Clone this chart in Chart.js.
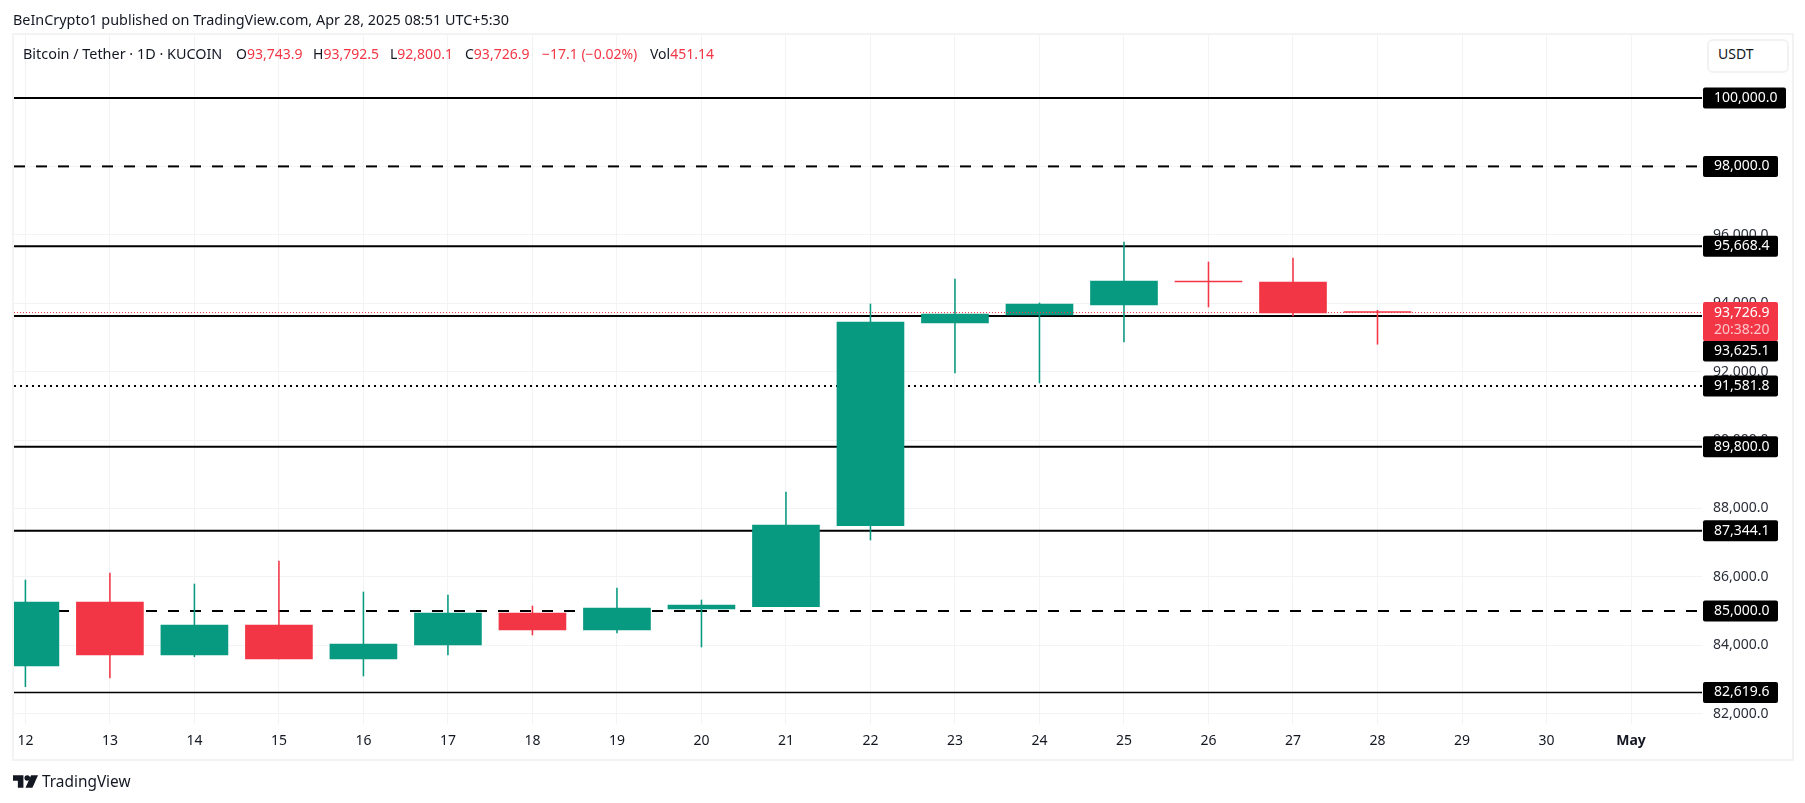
<!DOCTYPE html>
<html>
<head>
<meta charset="utf-8">
<title>Bitcoin / Tether</title>
<script src="https://cdn.jsdelivr.net/npm/chart.js@4/dist/chart.umd.min.js"></script>
<style>
    html, body { margin: 0; padding: 0; background: #fff; }
    body { width: 1805px; height: 803px; position: relative; overflow: hidden; font-family: "Noto Sans", sans-serif; color: #131722; }
    #panel { position: absolute; left: 12px; top: 33px; width: 1778px; height: 724px; border: 2px solid #f3f3f4; }
    #priceChart { position: absolute; left: 0; top: 0; }
    .txt { position: absolute; white-space: nowrap; font-size: 14px; line-height: 18px; }
    .wide { font-size: 14.4px; }
    .red { color: #f23645; }
    #usdt { position: absolute; left: 1707px; top: 39px; width: 78px; height: 30px; border: 2px solid #f1f2f4; border-radius: 6px; background: #fff; }
    #logo { position: absolute; left: 13px; top: 775px; }
</style>
</head>
<body>
<div id="panel"></div>
<canvas id="priceChart" width="1805" height="803"></canvas>

<div class="txt wide" style="left:13px;top:11px">BeInCrypto1 published on TradingView.com, Apr 28, 2025 08:51 UTC+5:30</div>
<div class="txt wide" style="left:23px;top:45px">Bitcoin / Tether · 1D · KUCOIN</div>
<div class="txt" style="left:236px;top:45px">O<span class="red">93,743.9</span></div>
<div class="txt" style="left:313px;top:45px">H<span class="red">93,792.5</span></div>
<div class="txt" style="left:390px;top:45px">L<span class="red">92,800.1</span></div>
<div class="txt" style="left:465px;top:45px">C<span class="red">93,726.9</span></div>
<div class="txt red" style="left:542px;top:45px">−17.1 (−0.02%)</div>
<div class="txt" style="left:650px;top:45px">Vol<span class="red">451.14</span></div>
<div id="usdt"></div>
<div class="txt" style="left:1718px;top:45px">USDT</div>

<svg id="logo" width="25" height="13" viewBox="0 0 36 18">
    <path fill="#131722" d="M0 0h15v18H7V8H0z"/>
    <circle fill="#131722" cx="20.5" cy="4" r="4"/>
    <path fill="#131722" d="M26 0h10l-8 18H18z"/>
</svg>
<div class="txt" style="left:42px;top:773px;font-size:15.4px">TradingView</div>

<script>
// Daily candles, Apr 12 to Apr 28
const days = [0, 1, 2, 3, 4, 5, 6, 7, 8, 9, 10, 11, 12, 13, 14, 15, 16];
const dayLabels = ['12', '13', '14', '15', '16', '17', '18', '19', '20', '21', '22', '23', '24', '25', '26', '27', '28', '29', '30', 'May'];
const opens = [83392, 85263, 83713, 84591, 83596, 84006, 84942, 84444, 85058, 85129, 87494, 93421, 93655, 93947, 94640, 94620, 93743.9];
const closes = [85263, 83713, 84591, 83596, 84035, 84942, 84444, 85088, 85175, 87515, 93450, 93684, 93977, 94649, 94620, 93713, 93726.9];
const highs = [85906, 86111, 85789, 86462, 85556, 85468, 85146, 85673, 85322, 88480, 93977, 94708, 94006, 95789, 95205, 95322, 93792.5];
const lows = [82787, 83041, 83664, 83596, 83099, 83713, 84298, 84357, 83947, 85129, 87076, 91959, 91667, 92865, 93889, 93626, 92800.1];

// Price axis ticks
const priceTicks = [82000, 84000, 86000, 88000, 90000, 92000, 94000, 96000, 98000, 100000];

// Horizontal levels drawn on the chart
const levels = [100000, 98000, 95668.4, 93625.1, 91581.8, 89800, 87344.1, 85000, 82619.6];
const dashedLevels = [98000, 85000];
const dottedLevels = [91581.8];
const lastPrice = 93726.9;
const countdown = '20:38:20';

const GREEN = '#089981';
const RED = '#f23645';
const xMin = -0.135;
const xMax = 19.84;
const fontFamily = '"Noto Sans", sans-serif';

const fmt = v => v.toLocaleString('en-US', { minimumFractionDigits: 1, maximumFractionDigits: 1 });
const candleColors = days.map((d, i) => closes[i] >= opens[i] ? GREEN : RED);

function levelDash(v) {
    if (dashedLevels.includes(v)) return [11, 11];
    if (dottedLevels.includes(v)) return [2, 4];
    return [];
}

// Price labels on the right hand axis
const priceTagPlugin = {
    id: 'priceTags',
    afterDraw(chart) {
        const c = chart.ctx;
        const y = chart.scales.y;
        const left = chart.chartArea.right + 1;

        function tag(top, h, w, color) {
            c.fillStyle = color;
            c.beginPath();
            c.roundRect(left, top, w, h, 2);
            c.fill();
        }
        function label(text, cy, color) {
            c.fillStyle = color;
            c.fillText(text, left + 11, cy);
        }

        c.save();
        c.font = '14px ' + fontFamily;
        c.textBaseline = 'middle';

        levels.forEach(v => {
            let cy = y.getPixelForValue(v);
            // this one gets pushed down under the last price tag
            if (v === 93625.1) cy = 351;
            tag(cy - 10.5, 21, v >= 100000 ? 83 : 75, '#000');
            label(fmt(v), cy, '#fff');
        });

        const py = y.getPixelForValue(lastPrice);
        tag(py - 10.5, 39, 75, RED);
        label(fmt(lastPrice), py, '#fff');
        label(countdown, py + 17, '#fbc5ca');
        c.restore();
    }
};

const levelSets = levels.map(v => ({
    type: 'line',
    data: [{ x: xMin, y: v }, { x: xMax, y: v }],
    borderColor: '#000',
    borderWidth: v === 82619.6 ? 1.5 : 2,
    borderDash: levelDash(v),
    pointRadius: 0,
    order: 5
}));

new Chart(document.getElementById('priceChart'), {
    type: 'bar',
    plugins: [priceTagPlugin],
    data: {
        datasets: [
            {
                data: days.map((d, i) => ({ x: d, y: [opens[i], closes[i]] })),
                backgroundColor: candleColors,
                barThickness: 67,
                minBarLength: 1,
                grouped: false,
                order: 1
            },
            {
                data: days.map((d, i) => ({ x: d, y: [lows[i], highs[i]] })),
                backgroundColor: candleColors,
                barThickness: 0.9,
                grouped: false,
                order: 2
            },
            {
                type: 'line',
                data: [{ x: xMin, y: lastPrice }, { x: xMax, y: lastPrice }],
                borderColor: RED,
                borderWidth: 1,
                borderDash: [1, 2],
                pointRadius: 0,
                order: 0
            },
            ...levelSets
        ]
    },
    options: {
        responsive: false,
        animation: false,
        layout: { padding: { left: 14, top: 35, right: 13, bottom: 44 } },
        plugins: {
            legend: { display: false },
            tooltip: { enabled: false }
        },
        scales: {
            x: {
                type: 'linear',
                min: xMin,
                max: xMax,
                offset: false,
                border: { display: false },
                grid: { color: '#f2f3f4', offset: false, drawTicks: false },
                afterFit: scale => { scale.height = 35; },
                afterBuildTicks: scale => { scale.ticks = dayLabels.map((t, i) => ({ value: i })); },
                ticks: {
                    autoSkip: false,
                    maxRotation: 0,
                    padding: 9,
                    color: '#131722',
                    font: ctx => ({
                        family: fontFamily,
                        size: 14,
                        weight: dayLabels[ctx.tick && ctx.tick.value] === 'May' ? 'bold' : 'normal'
                    }),
                    callback: value => dayLabels[value]
                }
            },
            y: {
                position: 'right',
                min: 81696,
                max: 101842,
                border: { display: false },
                grid: { color: '#f2f3f4', drawTicks: false },
                afterFit: scale => { scale.width = 90; },
                afterBuildTicks: scale => { scale.ticks = priceTicks.map(value => ({ value })); },
                ticks: {
                    autoSkip: false,
                    padding: 11,
                    color: '#2a2e39',
                    font: { family: fontFamily, size: 14 },
                    callback: value => fmt(value)
                }
            }
        }
    }
});
</script>
</body>
</html>
